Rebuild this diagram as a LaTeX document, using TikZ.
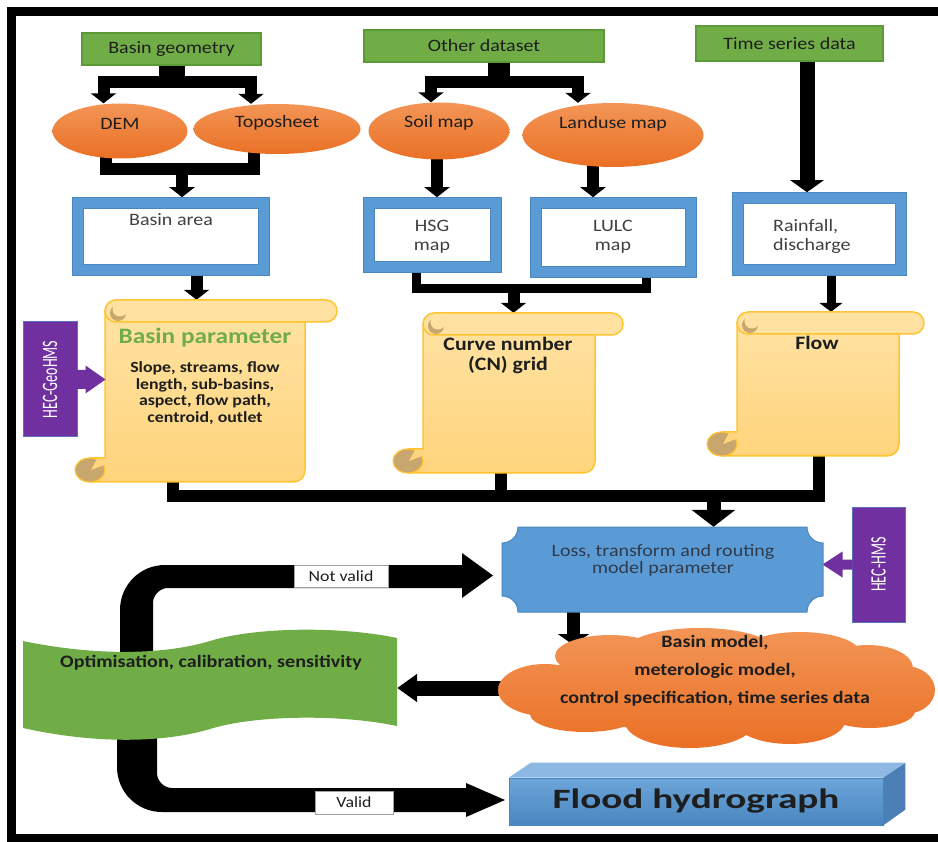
\documentclass[tikz,border=0pt]{standalone}
\usepackage{fontspec}
\setmainfont{Carlito}[FakeStretch=1.15]
\newfontfamily\narrowfont{Carlito}[FakeStretch=0.64]
\newfontfamily\widefont{Carlito}[FakeStretch=1.4]
\usetikzlibrary{arrows.meta,shapes.geometric,calc}
\pgfdeclarelayer{bg}
\pgfsetlayers{bg,main}
\definecolor{grn}{HTML}{70AD47}
\definecolor{grnd}{HTML}{5C9A38}
\definecolor{orgl}{HTML}{F39556}
\definecolor{orgd}{HTML}{EA7025}
\definecolor{blu}{HTML}{5B9BD5}
\definecolor{blud}{HTML}{4A86C0}
\definecolor{blutop}{HTML}{8DB8E3}
\definecolor{bluside}{HTML}{4C7FB5}
\definecolor{pur}{HTML}{7030A0}
\definecolor{purb}{HTML}{5A6FC0}
\definecolor{scrt}{HTML}{FFE2A2}
\definecolor{scrb}{HTML}{FFD47C}
\definecolor{gold}{HTML}{FFC430}
\definecolor{tanc}{HTML}{C8A76E}
\definecolor{txt}{HTML}{1E1E1E}
\definecolor{gtxt}{HTML}{404040}
\definecolor{losstxt}{HTML}{2F3B4C}
\newcommand\fA{\fontsize{17.4}{19}\selectfont}
\newcommand\fL{\fontsize{17.4}{17.5}\selectfont}
\newcommand\fBP{\bfseries\fontsize{22}{24}\selectfont}
\newcommand\fBS{\bfseries\fontsize{15.5}{16.7}\selectfont}
\newcommand\fCN{\bfseries\fontsize{19}{20}\selectfont}
\newcommand\fCL{\bfseries\fontsize{17.4}{28}\selectfont}
\newcommand\fOP{\bfseries\fontsize{17.5}{20}\selectfont}
\newcommand\fLB{\fontsize{15.5}{17}\selectfont}
\newcommand\fRot{\narrowfont\fontsize{22}{22}\selectfont}
\newcommand\scrollbox[5]{%
  \path[scrollst] (#1,#3+11) -- (#2,#3+11) -- (#2,#4-12) .. controls (#2,#4-5) and (#2-5,#4) .. (#2-12,#4) -- (#1-14,#4) -- (#1-14,#4-24) -- (#1,#4-24) -- cycle;
  \path[draw=gold, line width=1.5pt, fill=scrt, rounded corners=11pt] (#1,#3) rectangle (#2+#5,#3+22);
  \fill[tanc] (#1+13,#3+13) circle (8pt);
  \fill[scrt] (#1+15,#3+9) circle (7.5pt);
  \path[draw=gold, line width=1.2pt, fill=tanc] (#1-15,#4-12) ellipse [x radius=15pt, y radius=12pt];
  \fill[scrb] (#1-14,#4-12) -- (#1-1,#4-17) -- (#1-1,#4-23) -- (#1-8,#4-23) -- cycle;
}
\tikzset{
  gbox/.style={rectangle, fill=grn, draw=grnd, line width=1.2pt, inner sep=0pt, text=txt, font=\fA},
  ell/.style={ellipse, draw=none, top color=orgl, bottom color=orgd, inner sep=0pt},
  etxt/.style={text=txt, font=\fA, inner sep=0pt},
  bbox/.style={rectangle, draw=blud, double=blu, double distance=10pt, line width=0.8pt, fill=white, outer sep=5.8pt, inner sep=0pt},
  btxt/.style={text=gtxt, font=\fA, inner sep=0pt},
  scrollst/.style={draw=gold, line width=1.5pt, top color=scrt, bottom color=scrb},
  spot/.style={rectangle, inner sep=0pt, draw=none},
  pbox/.style={rectangle, fill=pur, draw=purb, line width=1pt, inner sep=0pt},
  conn/.style={line width=12pt, draw=black},
  arr/.style={conn, -{Triangle[width=25pt,length=10pt]}},
  arrS/.style={line width=9pt, draw=black, -{Triangle[width=23pt,length=9pt]}},
  arrT/.style={line width=15pt, draw=black, -{Triangle[width=33pt,length=12pt]}},
  arrB/.style={line width=14pt, draw=black, -{Triangle[width=43pt,length=17pt]}},
  arrC/.style={line width=13pt, draw=black, -{Triangle[width=31pt,length=11pt]}},
  arrL/.style={line width=15pt, draw=black, -{Triangle[width=27pt,length=20pt]}},
  lbl/.style={rectangle, fill=white, draw=gray!75, line width=0.8pt, inner sep=0pt, font=\fLB, text=txt}
}
\begin{document}
\begin{tikzpicture}[x=1pt,y=-1pt]
\useasboundingbox (0,0) rectangle (938,842);
\clip (0,0) rectangle (938,842);
% frame
\draw[line width=9pt] (960,838.5) -- (11.5,838.5) -- (11.5,11.5) -- (960,11.5);
% green source boxes
\node[gbox, minimum width=179pt, minimum height=32pt] (bg) at (171.5,49) {Basin geometry};
\node[gbox, minimum width=240pt, minimum height=32pt] (od) at (484,46) {Other dataset};
\node[gbox, minimum width=187pt, minimum height=35pt] (ts) at (789.5,43.5) {Time series data};
% ellipses
\node[ell, minimum width=135pt, minimum height=55pt] (dem) at (120,131) {};
\node[etxt] (demt) at ([yshift=7pt]dem.center) {DEM};
\node[ell, minimum width=167pt, minimum height=50pt] (topo) at (277,129) {};
\node[etxt] (topot) at ([yshift=6pt]topo.center) {Toposheet};
\node[ell, minimum width=141pt, minimum height=57pt] (soil) at (439,131) {};
\node[etxt] (soilt) at ([yshift=8pt]soil.center) {Soil map};
\node[ell, minimum width=181pt, minimum height=64pt] (land) at (613,135) {};
\node[etxt] (landt) at ([yshift=11pt]land.center) {Landuse map};
% blue boxes
\node[bbox, minimum width=186pt, minimum height=67pt] (ba) at (171,236.5) {};
\node[btxt] (bat) at (171,220) {Basin area};
\node[bbox, minimum width=127pt, minimum height=64pt] (hsg) at (432.5,235) {};
\node[btxt, align=center] (hsgt) at (432,236.5) {HSG\\map};
\node[bbox, minimum width=155pt, minimum height=69pt] (lulc) at (613.5,237.5) {};
\node[btxt, align=center] (lulct) at (613,236.5) {LULC\\map};
\node[bbox, minimum width=163pt, minimum height=72pt] (rain) at (819.5,234) {};
\node[btxt, align=left, anchor=west] (raint) at (773,236) {Rainfall,\\discharge};
% scrolls
\node[spot, minimum width=200pt, minimum height=182pt] (bp) at (205,391) {};
\scrollbox{105}{305}{300}{482}{32}
\node[font=\fBP, text=grn, inner sep=0pt] (bpt) at (205,338) {Basin parameter};
\node[font=\fBS, text=txt, align=center, inner sep=0pt] (bps) at (205,393) {Slope, streams, flow\\length, sub-basins,\\aspect, flow path,\\centroid, outlet};
\node[spot, minimum width=172pt, minimum height=160pt] (cn) at (509,393) {};
\scrollbox{423}{595}{313}{473}{28}
\node[font=\fCN, text=txt, align=center, inner sep=0pt] (cnt) at (508,355) {Curve number\\(CN) grid};
\node[spot, minimum width=162pt, minimum height=144pt] (flow) at (818,384) {};
\scrollbox{737}{899}{312}{456}{25}
\node[font=\fCN, text=txt, inner sep=0pt] (flowt) at (817,343) {Flow};
% purple tool boxes
\node[pbox, minimum width=54pt, minimum height=115pt] (geo) at (50,379.5) {};
\node[rotate=90, text=white, font=\fRot, inner sep=0pt] (geot) at (geo.center) {HEC-GeoHMS};
\begin{scope}[shift={(geo.east)}]
\fill[pur] (-1,-9.5) -- (8,-9.5) -- (8,-14) -- (28,0) -- (8,14) -- (8,9.5) -- (-1,9.5) -- cycle;
\end{scope}
\node[pbox, minimum width=53pt, minimum height=115pt] (hms) at (878.5,564.5) {};
\node[rotate=90, text=white, font=\fRot, inner sep=0pt] (hmst) at (hms.center) {HEC-HMS};
\begin{scope}[shift={(hms.west)}]
\fill[pur] (1,-5) -- (-9,-5) -- (-9,-13) -- (-29,0) -- (-9,13) -- (-9,5) -- (1,5) -- cycle;
\end{scope}
% loss box
\node[spot, minimum width=321pt, minimum height=85pt] (loss) at (662.5,569.5) {};
\path[fill=blu, draw=blud, line width=1pt] (518,527) -- (807,527) .. controls (807,536) and (814,543) .. (823,543) -- (823,596) .. controls (814,596) and (807,603) .. (807,612) -- (518,612) .. controls (518,603) and (511,596) .. (502,596) -- (502,543) .. controls (511,543) and (518,536) .. (518,527) -- cycle;
\node[font=\fL, text=losstxt, align=center, inner sep=0pt] (losst) at (663,560.5) {Loss, transform and routing\\model parameter};
% cloud (union of puffs)
\node[spot, minimum width=437pt, minimum height=120pt] (cloud) at (716.5,688) {};
\shade[top color=orgl, bottom color=orgd]
  (716,690) ellipse [x radius=195pt, y radius=42pt]
  (545,690) ellipse [x radius=47pt, y radius=26pt]
  (610,656) ellipse [x radius=55pt, y radius=21pt]
  (700,651) ellipse [x radius=75pt, y radius=23pt]
  (800,653) ellipse [x radius=60pt, y radius=21pt]
  (868,668) ellipse [x radius=45pt, y radius=23pt]
  (905,690) ellipse [x radius=30pt, y radius=24pt]
  (585,714) ellipse [x radius=55pt, y radius=18pt]
  (690,722) ellipse [x radius=65pt, y radius=26pt]
  (790,721) ellipse [x radius=55pt, y radius=23pt]
  (870,711) ellipse [x radius=45pt, y radius=17pt];
\node[font=\fCL, text=txt, align=center, inner sep=0pt] (cloudt) at (715,671) {Basin model,\\meterologic model,\\control specification, time series data};
% optimisation banner
\node[spot, minimum width=374pt, minimum height=90pt] (opt) at (210,685) {};
\fill[grn] (23,641) .. controls (90,655) and (160,656) .. (210,641) .. controls (255,627) and (340,626) .. (397,638) -- (397,726) .. controls (340,714) and (255,715) .. (210,729) .. controls (160,744) and (90,743) .. (23,728) -- cycle;
\node[font=\fOP, text=txt, inner sep=0pt] (optt) at (211,663) {Optimisation, calibration, sensitivity};
% flood hydrograph
\node[rectangle, minimum width=374pt, minimum height=47pt, inner sep=0pt, top color=blu!90!white, bottom color=blud, draw=blud, line width=0.6pt] (flood) at (696,801.5) {};
\fill[blutop] (flood.north west) -- ++(22,-15) -- ++(374,0) -- (flood.north east) -- cycle;
\fill[bluside] (flood.north east) -- ++(22,-15) -- ++(0,47) -- (flood.south east) -- cycle;
\node[font=\widefont\bfseries\fontsize{28}{30}\selectfont, text=txt, inner sep=0pt] (floodt) at (flood.center) {Flood hydrograph};
% labels on loop arrows
\node[lbl, minimum width=94pt, minimum height=22pt] (nv) at (341,576) {Not valid};
\node[lbl, minimum width=78pt, minimum height=23pt] (vl) at (354,802.5) {Valid};
% connectors
\begin{pgfonlayer}{bg}
\coordinate (bgj) at ([yshift=-16.5pt]bg.south);
\draw[line width=26pt] (bg.south) -- ([yshift=4pt]bgj);
\draw[arr] (bgj) -| ([xshift=-16.5pt]dem.north);
\draw[arr] (bgj) -| ([xshift=-26pt]topo.north);
\coordinate (j2) at (182,169.5);
\draw[conn] ([xshift=-14.5pt,yshift=4pt]dem.south) |- (j2) -| ([xshift=-23pt,yshift=4pt]topo.south);
\draw[arr] (j2) -- (j2 |- ba.north);
\draw[arr] ([xshift=25.5pt]ba.south) -- ([xshift=-8.5pt]bp.north);
\coordinate (odj) at ([xshift=15pt,yshift=-19pt]od.south);
\draw[line width=22pt] ([xshift=15pt]od.south) -- ([yshift=4pt]odj);
\draw[arr] (odj) -| ([xshift=-8pt]soil.north);
\draw[arr] (odj) -| ([xshift=-35pt]land.north);
\draw[arr] ([xshift=-2pt,yshift=4pt]soil.south) -- ([xshift=4.5pt]hsg.north);
\draw[arr] ([xshift=-20pt,yshift=4pt]land.south) -- ([xshift=-20.5pt]lulc.north);
\draw[arrT] ([xshift=17.5pt]ts.south) -- ([xshift=-12.5pt]rain.north);
\coordinate (j3) at (513.5,289);
\draw[line width=9pt] ([xshift=-16.5pt]hsg.south) |- (j3) -| ([xshift=32.5pt]lulc.south);
\draw[arr] (j3) -- (j3 |- cn.north);
\draw[arrS] ([xshift=11.5pt]rain.south) -- ([xshift=13pt]flow.north);
\coordinate (j4) at (713.5,496);
\coordinate (bpb) at ([xshift=-32.5pt,yshift=4pt]bp.south);
\coordinate (cnb) at ([xshift=-8pt,yshift=4pt]cn.south);
\coordinate (flb) at ([xshift=0.5pt,yshift=4pt]flow.south);
\draw[conn] (bpb) |- (j4) -| (flb);
\draw[conn] (cnb) -- (cnb |- j4);
\draw[arrB] (j4) -- (j4 |- loss.north);
\coordinate (ctop) at (573.5,645);
\draw[arrC] ([xshift=-89pt]loss.south) -- (ctop);
\draw[arrL] ([xshift=8pt]cloud.west) -- (opt.east |- cloud.west);
% Not valid loop arrow
\fill[black] (120,655) -- (120,610) .. controls (120,585) and (140,565) .. (165,565) -- (462,565) -- (462,553) -- (493,575.5) -- (462,598) -- (462,588) -- (168,588) .. controls (160,588) and (153,595) .. (153,603) -- (153,655) -- cycle;
% Valid loop arrow
\fill[black] (117,730) -- (117,767) .. controls (117,792) and (137,812) .. (162,812) -- (466,812) -- (466,817) -- (505,800) -- (466,783) -- (466,788) -- (172,788) .. controls (164,788) and (157,781) .. (157,773) -- (157,730) -- cycle;
\end{pgfonlayer}
\end{tikzpicture}
\end{document}
